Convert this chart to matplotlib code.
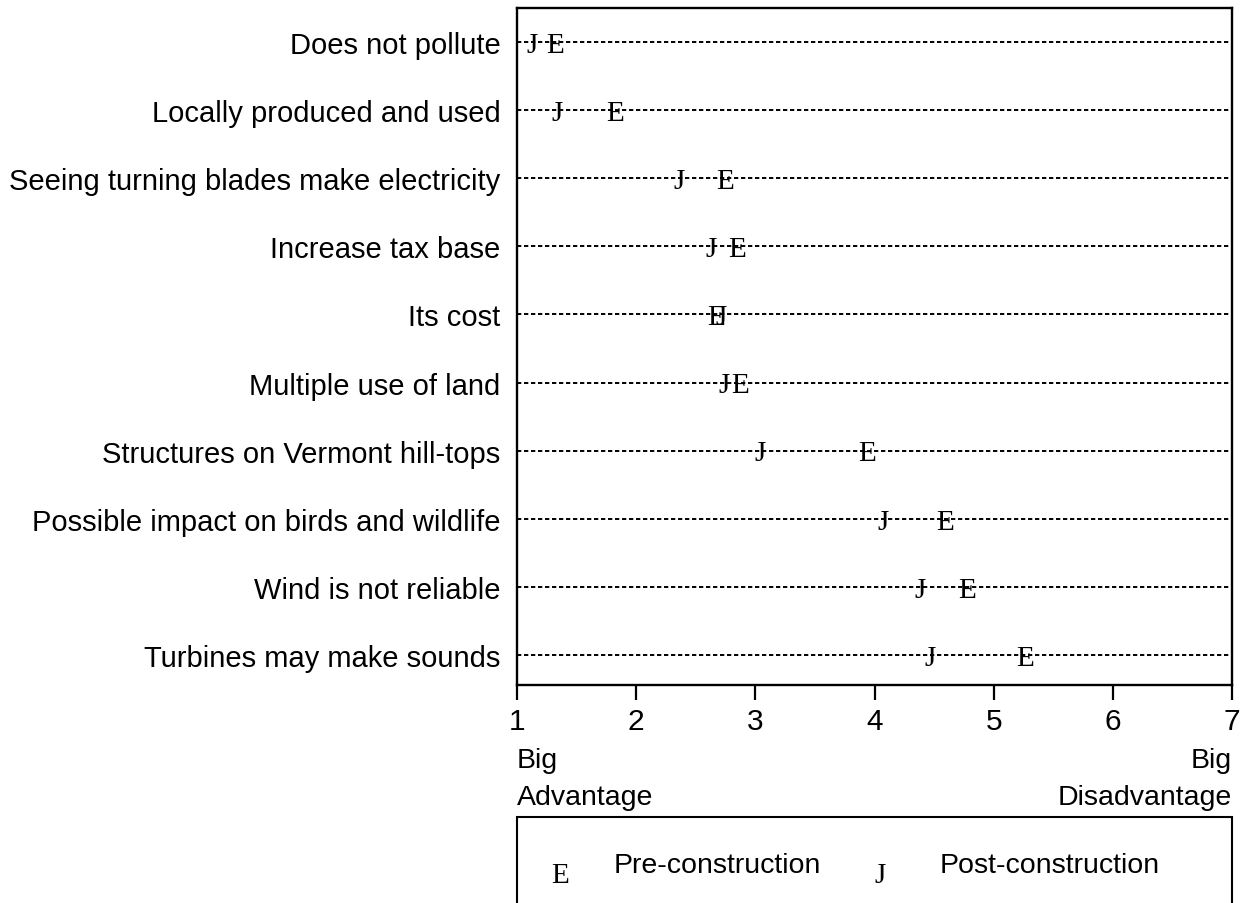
import matplotlib.pyplot as plt
from matplotlib.patches import Rectangle

plt.rcParams['font.family'] = ['Liberation Sans', 'DejaVu Sans']

# data
items = ['Does not pollute', 'Locally produced and used',
         'Seeing turning blades make electricity', 'Increase tax base',
         'Its cost', 'Multiple use of land', 'Structures on Vermont hill-tops',
         'Possible impact on birds and wildlife', 'Wind is not reliable',
         'Turbines may make sounds']
pre = [1.32, 1.82, 2.75, 2.85, 2.67, 2.87, 3.94, 4.59, 4.78, 5.26]
post = [1.13, 1.34, 2.36, 2.63, 2.71, 2.74, 3.04, 4.07, 4.38, 4.47]
ticks = [1, 2, 3, 4, 5, 6, 7]

fs = 20.5
mfs = 21
serif = 'Liberation Serif'

fig = plt.figure(figsize=(12.51, 9.04), dpi=100)
ax = fig.add_axes([517/1251, 1-686/904, 715/1251, 677/904])

rows = list(range(len(items)))
ax.hlines(rows, 1, 7, colors='black', linewidth=1.4, linestyles=(0, (2.2, 1.4)), zorder=1)
for i in rows:
    ax.text(pre[i], i + 0.04, 'E', ha='center', va='center', fontsize=mfs, family=serif, zorder=3)
    ax.text(post[i], i + 0.04, 'J', ha='center', va='center', fontsize=mfs, family=serif, zorder=3)

ax.set_xlim(1, 7)
ax.set_ylim(len(items) - 0.56, -0.5)
ax.set_yticks(rows)
ax.set_yticklabels(items, fontsize=21)
ax.tick_params(axis='y', length=0, pad=12)
ax.set_xticks(ticks)
ax.set_xticklabels([str(t) for t in ticks], fontsize=21.5)
ax.tick_params(axis='x', direction='out', length=11, width=1.6, pad=5)
for s in ax.spines.values():
    s.set_linewidth(1.7)

# end labels under the axis
ax.annotate('Big\nAdvantage', xy=(1, 0), xycoords=('data', 'axes fraction'),
            xytext=(0, -45), textcoords='offset points', ha='left', va='top',
            fontsize=fs, linespacing=1.55)
ax.annotate('Big\nDisadvantage', xy=(7, 0), xycoords=('data', 'axes fraction'),
            xytext=(0, -45), textcoords='offset points', ha='right', va='top',
            fontsize=fs, linespacing=1.55, multialignment='right')

# legend box
fig.add_artist(Rectangle((517/1251, -0.05), 715/1251, 0.05 + 1 - 818/904,
                         transform=fig.transFigure, fill=False, edgecolor='black',
                         linewidth=1.5))
ly = 1 - 866/904
fig.text(560/1251, ly - 0.011, 'E', ha='center', va='center', fontsize=mfs, family=serif)
fig.text(614/1251, ly, 'Pre-construction', ha='left', va='center', fontsize=fs)
fig.text(880/1251, ly - 0.011, 'J', ha='center', va='center', fontsize=mfs, family=serif)
fig.text(940/1251, ly, 'Post-construction', ha='left', va='center', fontsize=fs)

fig.savefig('out.png', dpi=100)
